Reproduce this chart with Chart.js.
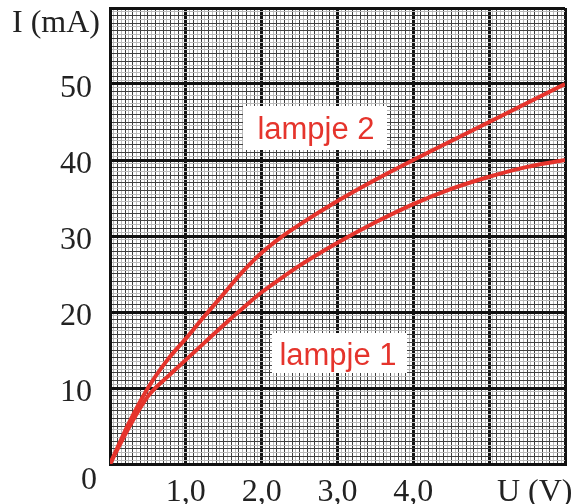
<!DOCTYPE html>
<html>
<head>
<meta charset="utf-8">
<script src="https://cdn.jsdelivr.net/npm/chart.js@4/dist/chart.umd.min.js"></script>
<style>
  html,body{margin:0;padding:0;background:#fff;}
  #wrap{width:578px;height:504px;}
</style>
</head>
<body>
<div id="wrap"><canvas id="c" width="578" height="504"></canvas></div>
<script>
// Data
const voltage = [0, 0.25, 0.5, 0.75, 1.0, 1.25, 1.5, 1.75, 2.0, 2.25, 2.5, 3.0, 3.5, 4.0, 4.5, 5.0, 5.5, 6.0];
const lampje1 = [0, 4.8, 8.9, 11.4, 13.7, 16.0, 18.3, 20.5, 22.6, 24.4, 26.1, 29.1, 31.8, 34.2, 36.2, 37.8, 39.1, 40.0];
const lampje2 = [0, 5.4, 10.0, 13.6, 16.5, 19.5, 22.4, 25.3, 27.8, 29.8, 31.5, 34.6, 37.4, 40.0, 42.5, 45.0, 47.5, 50.0];
const xTickLabels = {1: '1,0', 2: '2,0', 3: '3,0', 4: '4,0', 5.6: 'U (V)'};
const yTickLabels = {10: '10', 20: '20', 30: '30', 40: '40', 50: '50'};
const seriesNames = ['lampje 1', 'lampje 2'];

const RED = '#e5342c';
const near = (a, b) => Math.abs(a - b) < 1e-6;
function lookup(map, v) {
  for (const k in map) if (near(Number(k), v)) return map[k];
  return '';
}
function gridColor(v, unit) {
  const r = v / unit;
  if (near(r, Math.round(r))) return '#111';
  const r10 = r * 10;
  if (near(r10, Math.round(r10))) return '#404040';
  return '#bababa';
}
function gridWidth(v, unit) {
  const r = v / unit;
  return near(r, Math.round(r)) ? 3 : 1;
}

const labelPlugin = {
  id: 'labels',
  afterDatasetsDraw(chart) {
    const ctx = chart.ctx;
    ctx.save();
    const boxes = [
      {name: seriesNames[1], x0: 243, y0: 106, x1: 387, y1: 150, tx: 316, ty: 139},
      {name: seriesNames[0], x0: 272, y0: 333, x1: 407, y1: 373, tx: 338, ty: 365}
    ];
    ctx.font = '31px "Liberation Sans", Arial, sans-serif';
    ctx.textAlign = 'center';
    ctx.textBaseline = 'alphabetic';
    for (const b of boxes) {
      ctx.fillStyle = '#fff';
      ctx.fillRect(b.x0, b.y0, b.x1 - b.x0, b.y1 - b.y0);
      ctx.fillStyle = RED;
      ctx.fillText(b.name, b.tx, b.ty);
    }
    ctx.restore();
  },
  afterDraw(chart) {
    const ctx = chart.ctx;
    ctx.save();
    ctx.fillStyle = '#222';
    ctx.font = '32px "Liberation Serif", "Times New Roman", serif';
    ctx.textAlign = 'right';
    ctx.textBaseline = 'middle';
    ctx.fillText('I (mA)', 100, 24);
    ctx.fillText('0', 97, 481);
    ctx.restore();
  }
};

new Chart(document.getElementById('c'), {
  type: 'scatter',
  data: {
    datasets: [
      {label: seriesNames[0], data: voltage.map((v, i) => ({x: v, y: lampje1[i]}))},
      {label: seriesNames[1], data: voltage.map((v, i) => ({x: v, y: lampje2[i]}))}
    ].map(d => Object.assign(d, {
      showLine: true, borderColor: RED, borderWidth: 4, pointRadius: 0,
      cubicInterpolationMode: 'monotone', fill: false
    }))
  },
  options: {
    responsive: false,
    animation: false,
    layout: {padding: {top: 8, right: 13, left: 0, bottom: 0}},
    plugins: {legend: {display: false}, tooltip: {enabled: false}},
    scales: {
      x: {
        type: 'linear', min: 0, max: 6,
        afterFit(s) { s.height = 40; s.paddingLeft = 0; s.paddingRight = 0; },
        border: {display: true, color: '#111', width: 3},
        grid: {
          drawTicks: false,
          color: c => gridColor(c.tick.value, 1),
          lineWidth: c => gridWidth(c.tick.value, 1)
        },
        ticks: {
          stepSize: 0.05, autoSkip: false, maxRotation: 0, minRotation: 0,
          padding: 9, color: '#222',
          font: {family: '"Liberation Serif", "Times New Roman", serif', size: 32},
          callback: v => lookup(xTickLabels, v)
        }
      },
      y: {
        type: 'linear', min: 0, max: 60,
        afterFit(s) { s.width = 110; s.paddingTop = 0; s.paddingBottom = 0; },
        border: {display: true, color: '#111', width: 3},
        grid: {
          drawTicks: false,
          color: c => gridColor(c.tick.value, 10),
          lineWidth: c => gridWidth(c.tick.value, 10)
        },
        ticks: {
          stepSize: 0.5, autoSkip: false,
          padding: 18, labelOffset: 5, color: '#222',
          font: {family: '"Liberation Serif", "Times New Roman", serif', size: 32},
          callback: v => lookup(yTickLabels, v)
        }
      }
    }
  },
  plugins: [labelPlugin]
});
</script>
</body>
</html>
